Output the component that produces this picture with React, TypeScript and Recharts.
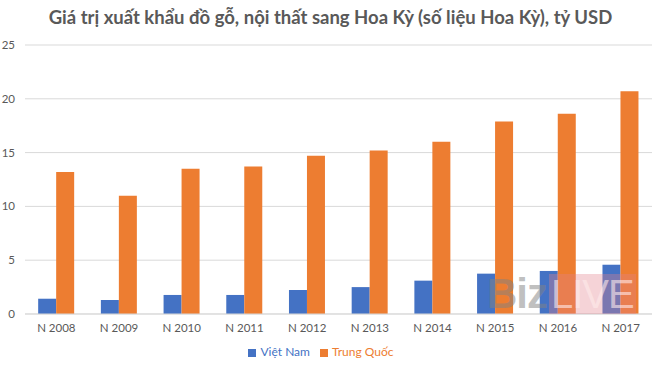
import React from "react";
import { BarChart, Bar, XAxis, YAxis, CartesianGrid, Legend } from "recharts";

const years = ["N 2008", "N 2009", "N 2010", "N 2011", "N 2012", "N 2013", "N 2014", "N 2015", "N 2016", "N 2017"];
const vietNam = [1.42, 1.3, 1.77, 1.77, 2.23, 2.5, 3.1, 3.75, 4.0, 4.58];
const trungQuoc = [13.2, 11.0, 13.5, 13.7, 14.7, 15.2, 16.0, 17.9, 18.6, 20.7];
const yTicks = [0, 5, 10, 15, 20, 25];
const seriesOrder = ["vn", "cn"];

const data = years.map((year, i) => ({
  year,
  vn: vietNam[i],
  cn: trungQuoc[i],
}));

const FONT = "Lato, 'Noto Sans', sans-serif";
const TEXT = "#595959";

export default function App() {
  return (
    <div style={{ position: "fixed", top: 0, left: 0, width: 661, height: 370, background: "#fff", fontFamily: FONT }}>
      <div
        style={{
          position: "absolute",
          top: 6,
          left: 0,
          width: 661,
          textAlign: "center",
          fontSize: 18.5,
          fontWeight: 700,
          color: TEXT,
        }}
      >
        Giá trị xuất khẩu đồ gỗ, nội thất sang Hoa Kỳ (số liệu Hoa Kỳ), tỷ USD
      </div>
      <BarChart
        width={661}
        height={370}
        data={data}
        margin={{ top: 45, right: 9, left: 0, bottom: 4 }}
        barCategoryGap="21%"
        barGap={0}
      >
        <CartesianGrid vertical={false} stroke="#d9d9d9" />
        <XAxis
          dataKey="year"
          tickLine={false}
          axisLine={{ stroke: "#d9d9d9" }}
          tick={{ fill: TEXT, fontSize: 11.5, fontFamily: FONT }}
          tickMargin={4}
          height={30}
          interval={0}
        />
        <YAxis
          domain={[0, 25]}
          ticks={yTicks}
          width={25}
          tickLine={false}
          axisLine={false}
          tick={{ fill: TEXT, fontSize: 11.5, fontFamily: FONT }}
          tickMargin={4}
        />
        <Legend
          verticalAlign="bottom"
          iconType="square"
          iconSize={8}
          height={22}
          itemSorter={(item: any) => seriesOrder.indexOf(item.dataKey)}
          wrapperStyle={{ fontSize: 12, color: TEXT, fontFamily: FONT }}
        />
        <Bar dataKey="vn" name="Việt Nam" fill="#4472c4" isAnimationActive={false} />
        <Bar dataKey="cn" name="Trung Quốc" fill="#ed7d31" isAnimationActive={false} />
      </BarChart>
      {/* BizLIVE watermark */}
      <div
        style={{
          position: "absolute",
          left: 487,
          top: 274,
          display: "flex",
          alignItems: "stretch",
          pointerEvents: "none",
          fontFamily: "'Liberation Sans', sans-serif",
          fontSize: 42,
          lineHeight: "40px",
          height: 40,
        }}
      >
        <span style={{ color: "rgba(130,130,130,0.5)", fontWeight: 700, letterSpacing: -1 }}>Biz</span>
        <span
          style={{
            color: "rgba(255,235,235,0.6)",
            background: "rgba(225,130,140,0.35)",
            padding: "0 2px",
            marginLeft: 2,
            letterSpacing: -1,
            fontSize: 40,
          }}
        >
          LIVE
        </span>
      </div>
    </div>
  );
}
